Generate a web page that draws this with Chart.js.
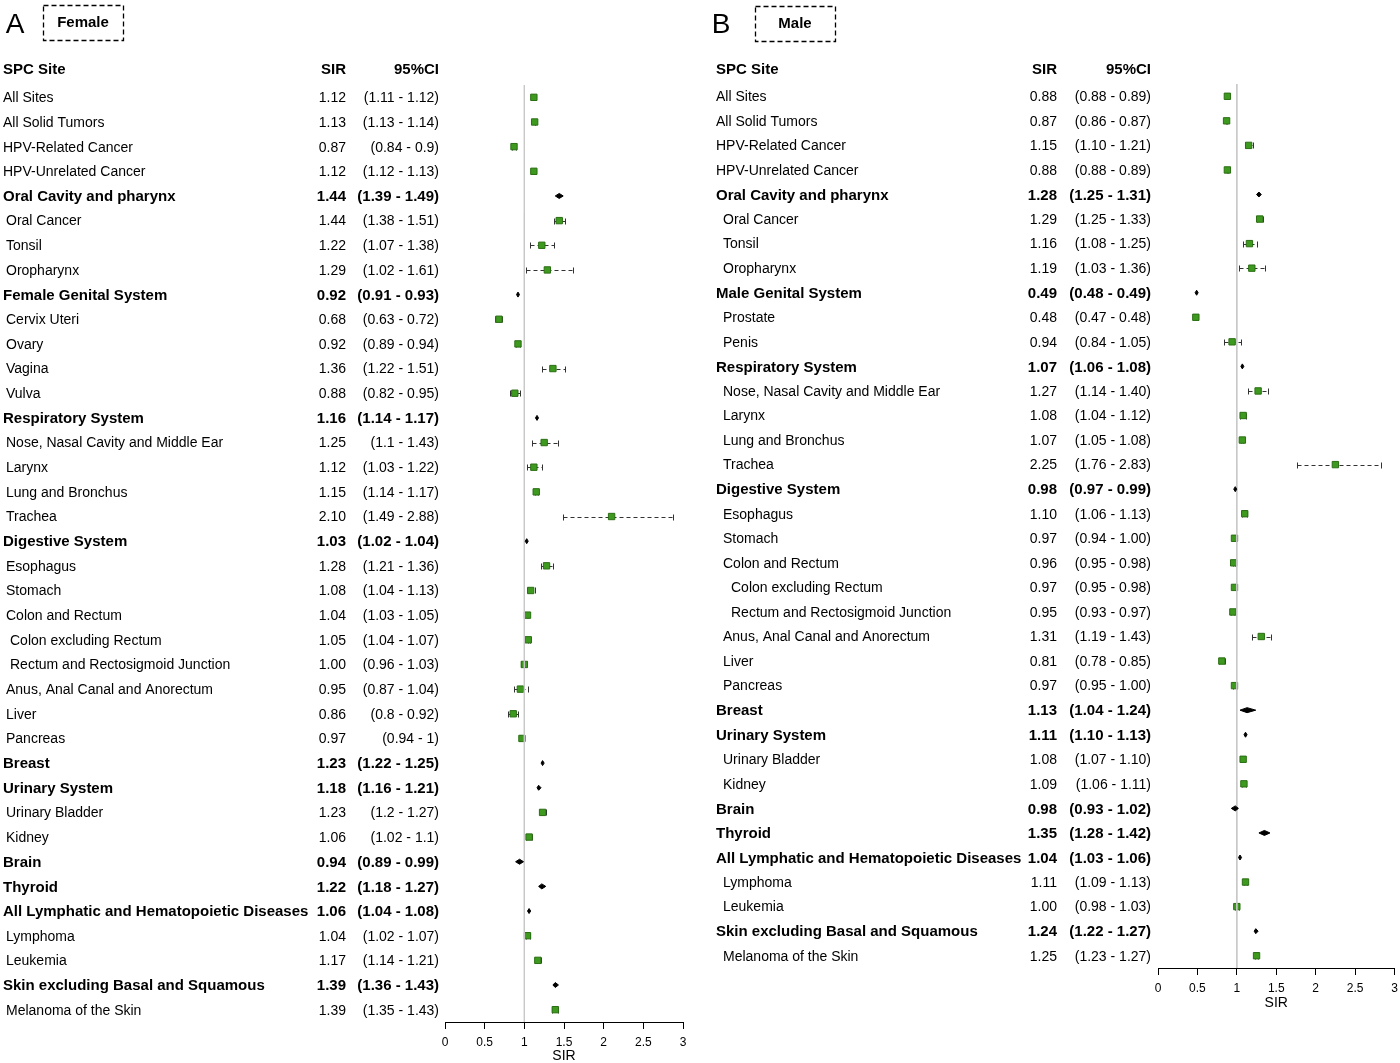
<!DOCTYPE html>
<html>
<head>
<meta charset="utf-8">
<script src="https://cdn.jsdelivr.net/npm/chart.js@4.4.0/dist/chart.umd.min.js"></script>
<style>
  html, body { margin: 0; padding: 0; background: #fff; }
  #wrap { position: relative; width: 1400px; height: 1063px; }
  canvas { position: absolute; top: 0; }
  #femaleChart { left: 0; }
  #maleChart { left: 700px; }
</style>
</head>
<body>
<div id="wrap">
  <canvas id="femaleChart" width="700" height="1063"></canvas>
  <canvas id="maleChart" width="700" height="1063"></canvas>
</div>
<script>
// level: 0 = top row, 1 = bold group (diamond), 2 = sub site, 3 = sub-sub site

// ---- Female ----
const femaleSites = [
  'All Sites', 'All Solid Tumors', 'HPV-Related Cancer', 'HPV-Unrelated Cancer',
  'Oral Cavity and pharynx', 'Oral Cancer', 'Tonsil', 'Oropharynx',
  'Female Genital System', 'Cervix Uteri', 'Ovary', 'Vagina', 'Vulva',
  'Respiratory System', 'Nose, Nasal Cavity and Middle Ear', 'Larynx', 'Lung and Bronchus', 'Trachea',
  'Digestive System', 'Esophagus', 'Stomach', 'Colon and Rectum', 'Colon excluding Rectum',
  'Rectum and Rectosigmoid Junction', 'Anus, Anal Canal and Anorectum', 'Liver', 'Pancreas',
  'Breast', 'Urinary System', 'Urinary Bladder', 'Kidney', 'Brain', 'Thyroid',
  'All Lymphatic and Hematopoietic Diseases', 'Lymphoma', 'Leukemia',
  'Skin excluding Basal and Squamous', 'Melanoma of the Skin'
];
const femaleLevels = [0,0,0,0,1,2,2,2,1,2,2,2,2,1,2,2,2,2,1,2,2,2,3,3,2,2,2,1,1,2,2,1,1,1,2,2,1,2];
const femaleSir = [1.12,1.13,0.87,1.12,1.44,1.44,1.22,1.29,0.92,0.68,0.92,1.36,0.88,1.16,1.25,1.12,1.15,2.10,
  1.03,1.28,1.08,1.04,1.05,1.00,0.95,0.86,0.97,1.23,1.18,1.23,1.06,0.94,1.22,1.06,1.04,1.17,1.39,1.39];
const femaleLow = [1.11,1.13,0.84,1.12,1.39,1.38,1.07,1.02,0.91,0.63,0.89,1.22,0.82,1.14,1.1,1.03,1.14,1.49,
  1.02,1.21,1.04,1.03,1.04,0.96,0.87,0.8,0.94,1.22,1.16,1.2,1.02,0.89,1.18,1.04,1.02,1.14,1.36,1.35];
const femaleHigh = [1.12,1.14,0.9,1.13,1.49,1.51,1.38,1.61,0.93,0.72,0.94,1.51,0.95,1.17,1.43,1.22,1.17,2.88,
  1.04,1.36,1.13,1.05,1.07,1.03,1.04,0.92,1,1.25,1.21,1.27,1.1,0.99,1.27,1.08,1.07,1.21,1.43,1.43];

// ---- Male ----
const maleSites = [
  'All Sites', 'All Solid Tumors', 'HPV-Related Cancer', 'HPV-Unrelated Cancer',
  'Oral Cavity and pharynx', 'Oral Cancer', 'Tonsil', 'Oropharynx',
  'Male Genital System', 'Prostate', 'Penis',
  'Respiratory System', 'Nose, Nasal Cavity and Middle Ear', 'Larynx', 'Lung and Bronchus', 'Trachea',
  'Digestive System', 'Esophagus', 'Stomach', 'Colon and Rectum', 'Colon excluding Rectum',
  'Rectum and Rectosigmoid Junction', 'Anus, Anal Canal and Anorectum', 'Liver', 'Pancreas',
  'Breast', 'Urinary System', 'Urinary Bladder', 'Kidney', 'Brain', 'Thyroid',
  'All Lymphatic and Hematopoietic Diseases', 'Lymphoma', 'Leukemia',
  'Skin excluding Basal and Squamous', 'Melanoma of the Skin'
];
const maleLevels = [0,0,0,0,1,2,2,2,1,2,2,1,2,2,2,2,1,2,2,2,3,3,2,2,2,1,1,2,2,1,1,1,2,2,1,2];
const maleSir = [0.88,0.87,1.15,0.88,1.28,1.29,1.16,1.19,0.49,0.48,0.94,1.07,1.27,1.08,1.07,2.25,
  0.98,1.10,0.97,0.96,0.97,0.95,1.31,0.81,0.97,1.13,1.11,1.08,1.09,0.98,1.35,1.04,1.11,1.00,1.24,1.25];
const maleLow = [0.88,0.86,1.10,0.88,1.25,1.25,1.08,1.03,0.48,0.47,0.84,1.06,1.14,1.04,1.05,1.76,
  0.97,1.06,0.94,0.95,0.95,0.93,1.19,0.78,0.95,1.04,1.10,1.07,1.06,0.93,1.28,1.03,1.09,0.98,1.22,1.23];
const maleHigh = [0.89,0.87,1.21,0.89,1.31,1.33,1.25,1.36,0.49,0.48,1.05,1.08,1.40,1.12,1.08,2.83,
  0.99,1.13,1.00,0.98,0.98,0.97,1.43,0.85,1.00,1.24,1.13,1.10,1.11,1.02,1.42,1.06,1.13,1.03,1.27,1.27];

// x axis
const xMin = 0;
const xMax = 3;
const xStep = 0.5;
const refValue = 1;

const FONT = '"Liberation Sans", Arial, Helvetica, sans-serif';
Chart.defaults.font.family = FONT;
Chart.defaults.color = '#000';

// draws whiskers, diamonds and the text table for one panel
const forestPlugin = {
  id: 'forest',
  beforeDatasetsDraw(chart, args, opts) {
    const ctx = chart.ctx;
    const xs = chart.scales.x, ys = chart.scales.y;
    ctx.save();
    ctx.strokeStyle = '#333';
    ctx.lineWidth = 1;
    opts.levels.forEach((lv, i) => {
      if (lv === 1) return;
      const y = Math.round(ys.getPixelForValue(i)) + 0.5;
      const x1 = Math.round(xs.getPixelForValue(opts.low[i])) + 0.5;
      const x2 = Math.round(xs.getPixelForValue(opts.high[i])) + 0.5;
      ctx.setLineDash([4, 3]);
      ctx.beginPath();
      ctx.moveTo(x1, y);
      ctx.lineTo(x2, y);
      ctx.stroke();
      ctx.setLineDash([]);
      ctx.beginPath();
      ctx.moveTo(x1, y - 3); ctx.lineTo(x1, y + 3);
      ctx.moveTo(x2, y - 3); ctx.lineTo(x2, y + 3);
      ctx.stroke();
    });
    ctx.restore();
  },
  afterDatasetsDraw(chart, args, opts) {
    const ctx = chart.ctx;
    const xs = chart.scales.x, ys = chart.scales.y;
    ctx.save();
    ctx.fillStyle = '#000';
    ctx.strokeStyle = '#000';
    ctx.lineWidth = 1;
    opts.levels.forEach((lv, i) => {
      if (lv !== 1) return;
      const y = ys.getPixelForValue(i);
      const xm = xs.getPixelForValue(opts.sir[i]);
      const x1 = Math.min(xs.getPixelForValue(opts.low[i]), xm - 1.5);
      const x2 = Math.max(xs.getPixelForValue(opts.high[i]), xm + 1.5);
      ctx.beginPath();
      ctx.moveTo(x1, y);
      ctx.lineTo(xm, y - 2.5);
      ctx.lineTo(x2, y);
      ctx.lineTo(xm, y + 2.5);
      ctx.closePath();
      ctx.fill();
      ctx.stroke();
    });
    ctx.restore();
  },
  afterDraw(chart, args, opts) {
    const ctx = chart.ctx;
    const ys = chart.scales.y;
    const p = opts.pos;
    ctx.save();
    ctx.fillStyle = '#000';

    // panel letter
    ctx.font = '28px ' + FONT;
    ctx.textAlign = 'center';
    ctx.textBaseline = 'alphabetic';
    ctx.fillText(opts.letter, p.letterX, 33);

    // dashed title box
    ctx.strokeStyle = '#000';
    ctx.lineWidth = 1.3;
    ctx.setLineDash([5, 3]);
    ctx.strokeRect(p.boxX + 0.5, p.boxY + 0.5, 80, 35);
    ctx.setLineDash([]);
    ctx.font = 'bold 15px ' + FONT;
    ctx.textBaseline = 'middle';
    ctx.fillText(opts.title, p.boxX + 40, p.boxY + 18);

    // header
    ctx.textAlign = 'left';
    ctx.fillText('SPC Site', p.labelX, 70);
    ctx.textAlign = 'right';
    ctx.fillText('SIR', p.sirRight, 70);
    ctx.fillText('95%CI', p.ciRight, 70);

    // rows
    opts.sites.forEach((name, i) => {
      const lv = opts.levels[i];
      const y = ys.getPixelForValue(i) + 1;
      ctx.font = (lv === 1 ? 'bold 15px ' : '14px ') + FONT;
      ctx.textAlign = 'left';
      ctx.fillText(name, p.labelX + p.indent[lv], y);
      ctx.textAlign = 'right';
      ctx.fillText(opts.sir[i].toFixed(2), p.sirRight, y);
      ctx.fillText('(' + opts.fmt(opts.low[i]) + ' - ' + opts.fmt(opts.high[i]) + ')', p.ciRight, y);
    });
    ctx.restore();
  }
};

function makeForest(canvasId, cfg) {
  const n = cfg.sites.length;
  const points = [];
  cfg.levels.forEach((lv, i) => {
    if (lv !== 1) points.push({ x: cfg.sir[i], y: i });
  });

  return new Chart(document.getElementById(canvasId), {
    data: {
      datasets: [
        {
          // reference line at SIR = 1
          type: 'line',
          data: [{ x: refValue, y: -0.5 }, { x: refValue, y: n - 0.5 }],
          borderColor: '#c8c8c8',
          borderWidth: 1,
          pointRadius: 0
        },
        {
          type: 'scatter',
          data: points,
          pointStyle: 'rect',
          pointRadius: 4.5,
          backgroundColor: '#3d9a1e',
          borderColor: '#2b6e14',
          borderWidth: 1
        }
      ]
    },
    options: {
      responsive: false,
      animation: false,
      devicePixelRatio: 1,
      layout: { padding: cfg.padding },
      plugins: {
        legend: { display: false },
        tooltip: { enabled: false },
        forest: {
          sites: cfg.sites, levels: cfg.levels, sir: cfg.sir,
          low: cfg.low, high: cfg.high, fmt: cfg.fmt,
          letter: cfg.letter, title: cfg.title, pos: cfg.pos
        }
      },
      scales: {
        x: {
          type: 'linear',
          min: xMin,
          max: xMax,
          ticks: {
            stepSize: xStep, font: { size: 12 }, color: '#000', padding: 6, maxRotation: 0,
            callback: v => String(v)
          },
          grid: { drawOnChartArea: false, drawTicks: true, tickLength: 7, color: '#000' },
          border: { display: true, color: '#000', width: 1 },
          title: { display: true, text: 'SIR', font: { size: 14, lineHeight: 1 }, color: '#000', padding: 0 },
          afterFit(scale) {
            scale.height = cfg.axisHeight;
            // end labels only need half their width, not the tick padding
            scale.paddingLeft = 4;
            scale.paddingRight = 4;
          }
        },
        y: {
          type: 'linear',
          reverse: true,
          min: -0.5,
          max: n - 0.5,
          display: false
        }
      }
    },
    plugins: [forestPlugin]
  });
}

makeForest('femaleChart', {
  sites: femaleSites, levels: femaleLevels, sir: femaleSir, low: femaleLow, high: femaleHigh,
  fmt: v => String(v),
  letter: 'A', title: 'Female',
  padding: { left: 445, right: 17, top: 85, bottom: 0 },
  axisHeight: 41,
  pos: { letterX: 15, boxX: 43, boxY: 5, labelX: 3, indent: [0, 0, 3, 7], sirRight: 346, ciRight: 439 }
});

makeForest('maleChart', {
  sites: maleSites, levels: maleLevels, sir: maleSir, low: maleLow, high: maleHigh,
  fmt: v => v.toFixed(2),
  letter: 'B', title: 'Male',
  padding: { left: 458, right: 5, top: 84, bottom: 53 },
  axisHeight: 42,
  pos: { letterX: 21, boxX: 55, boxY: 6, labelX: 16, indent: [0, 0, 7, 15], sirRight: 357, ciRight: 451 }
});
</script>
</body>
</html>
